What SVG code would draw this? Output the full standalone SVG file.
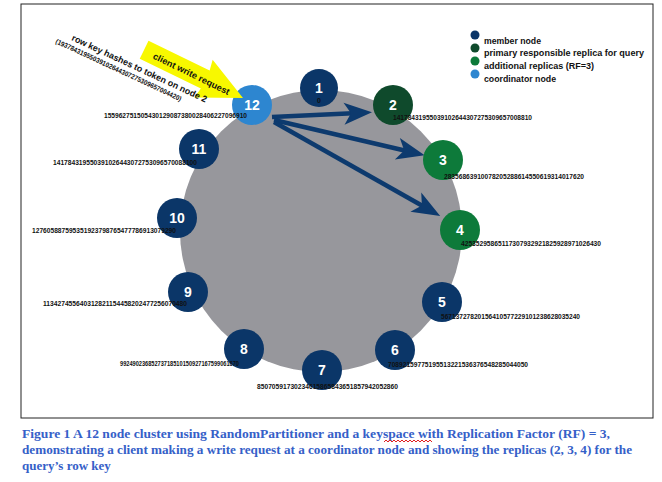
<svg xmlns="http://www.w3.org/2000/svg" width="662" height="482" viewBox="0 0 662 482">
<style>
.node{stroke:none}
.member{fill:#0b3668}
.primary{fill:#0f4a2c}
.extra{fill:#0d7a3a}
.coord{fill:#2d86d0}
.num{font-family:"Liberation Sans",Arial,sans-serif;font-weight:bold;font-size:14px;fill:#fff;text-anchor:middle}
.tok{font-family:"Liberation Sans",Arial,sans-serif;font-weight:bold;font-size:7px;fill:#111}
.leg{font-family:"Liberation Sans",Arial,sans-serif;font-weight:bold;font-size:9px;fill:#111}
.cap{font-family:"Liberation Serif","Times New Roman",serif;font-weight:bold;font-size:13px;fill:#3560c8}
.conn{stroke:#0d3a6e;stroke-width:4.5;fill:none;marker-end:url(#head)}
</style>
<defs>
<marker id="head" markerUnits="userSpaceOnUse" markerWidth="34" markerHeight="28" viewBox="-16 -14 34 28" refX="0" refY="0" orient="auto">
<path d="M14,0 L-14,-11 L-7,0 L-14,11 Z" fill="#0d3a6e"/>
</marker>
</defs>
<rect x="21" y="4" width="632" height="414" fill="#fff" stroke="#222" stroke-width="1"/>
<circle id="ring" cx="321" cy="231" r="141" fill="#97979c"/>
<g id="connectors">
<line class="conn" x1="272" y1="117" x2="358" y2="113"/>
<line class="conn" x1="274" y1="120" x2="411" y2="152"/>
<line class="conn" x1="274" y1="122" x2="428" y2="209"/>
</g>
<g id="node1"><circle class="node member" cx="319" cy="88" r="19"/><text class="num" x="319" y="93">1</text><text class="tok" x="319" y="103" text-anchor="middle">0</text></g>
<g id="node2"><circle class="node primary" cx="393" cy="105" r="20"/><text class="num" x="393" y="110">2</text><text class="tok" x="393" y="120" textLength="139" lengthAdjust="spacingAndGlyphs">14178431955039102644307275309657008810</text></g>
<g id="node3"><circle class="node extra" cx="443" cy="160" r="20"/><text class="num" x="443" y="165">3</text><text class="tok" x="444" y="179" textLength="140" lengthAdjust="spacingAndGlyphs">28356863910078205288614550619314017620</text></g>
<g id="node4"><circle class="node extra" cx="460" cy="230" r="20"/><text class="num" x="460" y="235">4</text><text class="tok" x="461" y="246" textLength="140" lengthAdjust="spacingAndGlyphs">42535295865117307932921825928971026430</text></g>
<g id="node5"><circle class="node member" cx="442" cy="302" r="20"/><text class="num" x="442" y="307">5</text><text class="tok" x="441" y="319" textLength="139" lengthAdjust="spacingAndGlyphs">56713727820156410577229101238628035240</text></g>
<g id="node6"><circle class="node member" cx="395" cy="350" r="20"/><text class="num" x="395" y="355">6</text><text class="tok" x="388" y="367" textLength="140" lengthAdjust="spacingAndGlyphs">70892159775195513221536376548285044050</text></g>
<g id="node7"><circle class="node member" cx="322" cy="370" r="20"/><text class="num" x="322" y="375">7</text><text class="tok" x="257" y="389" textLength="141" lengthAdjust="spacingAndGlyphs">85070591730234615865843651857942052860</text></g>
<g id="node8"><circle class="node member" cx="244" cy="349" r="20"/><text class="num" x="244" y="354">8</text><text class="tok" x="120" y="366" textLength="119" lengthAdjust="spacingAndGlyphs">99249023685273718510150927167599061670</text></g>
<g id="node9"><circle class="node member" cx="188" cy="292" r="20"/><text class="num" x="188" y="297">9</text><text class="tok" x="43" y="306" textLength="144" lengthAdjust="spacingAndGlyphs">113427455640312821154458202477256070480</text></g>
<g id="node10"><circle class="node member" cx="177" cy="218" r="20"/><text class="num" x="177" y="223">10</text><text class="tok" x="32" y="233" textLength="144" lengthAdjust="spacingAndGlyphs">127605887595351923798765477786913079290</text></g>
<g id="node11"><circle class="node member" cx="199" cy="149" r="20"/><text class="num" x="199" y="154">11</text><text class="tok" x="53" y="165" textLength="144" lengthAdjust="spacingAndGlyphs">141784319550391026443072753096570088100</text></g>
<g id="node12"><circle class="node coord" cx="252" cy="105" r="20"/><text class="num" x="252" y="110">12</text><text class="tok" x="104" y="118" textLength="143" lengthAdjust="spacingAndGlyphs">155962751505430129087380028406227096910</text></g>
<g id="client-request">
<g transform="translate(243,98) rotate(26)">
<polygon points="0,0 -44,-21 -42,-10 -110,-10 -110,10 -42,10 -44,21" fill="#f8f800"/>
<text class="leg" x="-99" y="4" font-size="10.5" textLength="84" lengthAdjust="spacingAndGlyphs">client write request</text>
</g>
<text class="leg" transform="translate(71,40) rotate(25)" font-size="11" textLength="148" lengthAdjust="spacingAndGlyphs">row key hashes to token on node 2</text>
<text class="tok" transform="translate(55,43) rotate(25)" font-size="6" textLength="138" lengthAdjust="spacingAndGlyphs">(19378431955039102644307275309657004420)</text>
</g>
<g id="legend">
<circle class="member" cx="475" cy="35" r="4.5"/><text class="leg" x="484" y="44" textLength="57" lengthAdjust="spacingAndGlyphs">member node</text>
<circle class="primary" cx="475" cy="48" r="4.5"/><text class="leg" x="484" y="56" textLength="160" lengthAdjust="spacingAndGlyphs">primary responsible replica for query</text>
<circle class="extra" cx="475" cy="61" r="4.5"/><text class="leg" x="484" y="69" textLength="110" lengthAdjust="spacingAndGlyphs">additional replicas (RF=3)</text>
<circle class="coord" cx="475" cy="74" r="4.5"/><text class="leg" x="484" y="82" textLength="72" lengthAdjust="spacingAndGlyphs">coordinator node</text>
</g>
<g id="caption">
<text class="cap" x="22" y="438" textLength="588" lengthAdjust="spacingAndGlyphs">Figure 1 A 12 node cluster using RandomPartitioner and a keyspace with Replication Factor (RF) = 3,</text>
<path d="M384,442 l2,-2 l2,2 l2,-2 l2,2 l2,-2 l2,2 l2,-2 l2,2 l2,-2 l2,2 l2,-2 l2,2 l2,-2 l2,2 l2,-2 l2,2 l2,-2 l2,2 l2,-2 l2,2 l2,-2 l2,2 l2,-2 l2,2" fill="none" stroke="#e02020" stroke-width="1"/>
<text class="cap" x="22" y="454" textLength="610" lengthAdjust="spacingAndGlyphs">demonstrating a client making a write request at a coordinator node and showing the replicas (2, 3, 4) for the</text>
<text class="cap" x="22" y="470">query’s row key</text>
</g>
</svg>
